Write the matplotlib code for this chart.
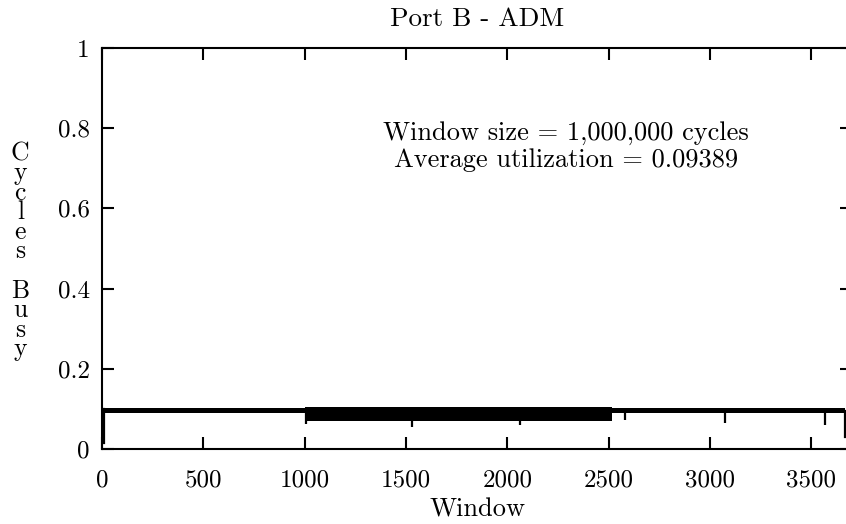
"""
Port B - ADM utilization per window (gnuplot style recreation).
"""

import matplotlib
matplotlib.use("Agg")
import matplotlib.pyplot as plt

# start-up windows before the port settles
start_windows = [8, 8, 10]
start_values = [0.015, 0.10, 0.10]

# envelope of the per-window utilization, one row per stretch of windows
band_start = [10, 1000, 2515]
band_end = [1000, 2515, 3665]
band_low = [0.090, 0.069, 0.090]
band_high = [0.103, 0.106, 0.103]

# isolated dips below the band
dip_windows = [1005, 1530, 2060, 2581, 3074, 3569]
dip_values = [0.063, 0.056, 0.060, 0.072, 0.066, 0.060]

# last window
end_windows = [3665, 3665]
end_values = [0.095, 0.03]

x_ticks = [0, 500, 1000, 1500, 2000, 2500, 3000, 3500]
y_ticks = [0, 0.2, 0.4, 0.6, 0.8, 1]
y_tick_labels = ["0", "0.2", "0.4", "0.6", "0.8", "1"]

plt.rcParams["font.family"] = ["cmr10", "DejaVu Serif"]
plt.rcParams["axes.formatter.use_mathtext"] = True

fig = plt.figure(figsize=(8.46, 5.24), dpi=100)
ax = fig.add_axes([0.1206, 0.1431, 0.8865, 0.7653])

for s, e, lo, hi in zip(band_start, band_end, band_low, band_high):
    ax.fill_between([s, e], [lo, lo], [hi, hi], color="black", linewidth=0)
ax.vlines(dip_windows, dip_values, [0.095] * len(dip_windows), color="black", linewidth=1.6)
ax.plot(start_windows, start_values, color="black", linewidth=1.6)
ax.plot(end_windows, end_values, color="black", linewidth=1.6)

ax.set_xlim(0, 3700)
ax.set_ylim(0, 1)
ax.set_xticks(x_ticks)
ax.set_xticklabels([str(t) for t in x_ticks])
ax.set_yticks(y_ticks)
ax.set_yticklabels(y_tick_labels)
ax.tick_params(direction="in", length=8.5, width=1.5, top=True, right=True, labelsize=18)
ax.tick_params(axis="x", pad=15)
ax.tick_params(axis="y", pad=9)
for sp in ax.spines.values():
    sp.set_linewidth(1.5)

ax.set_title("Port B - ADM", fontsize=19.5, pad=16)
ax.set_xlabel("Window", fontsize=19, labelpad=4)
fig.text(0.024, 0.52, "\n".join("Cycles Busy"), fontsize=18.5, ha="center", va="center",
         linespacing=0.78)

ax.text(2290, 0.788, "Window size = 1,000,000 cycles", fontsize=19, ha="center", va="center")
ax.text(2290, 0.72, "Average utilization = 0.09389", fontsize=19, ha="center", va="center")

fig.savefig("out.png", dpi=100)
